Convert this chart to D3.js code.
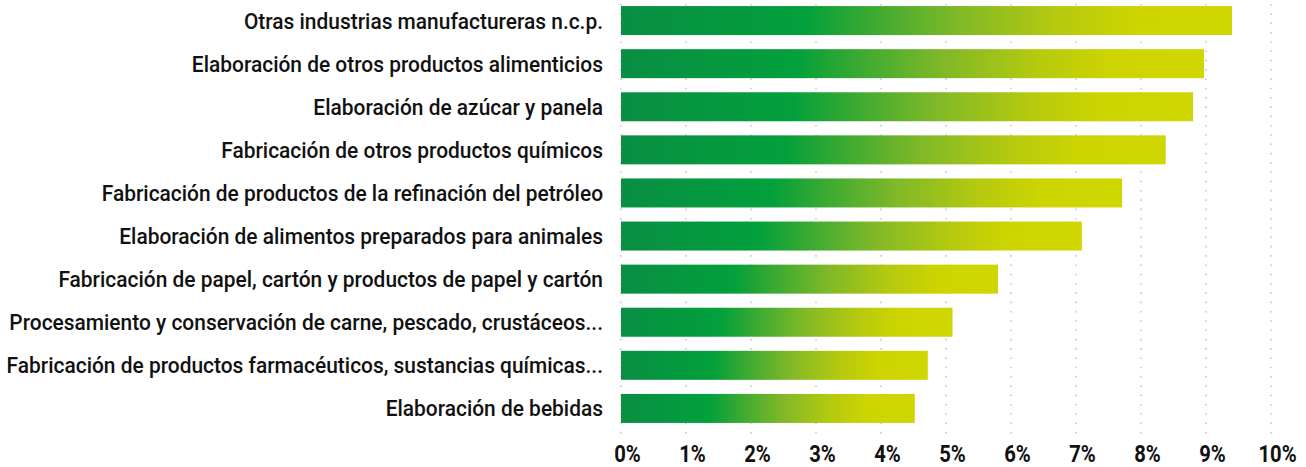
<!DOCTYPE html>
<html>
<head>
<meta charset="utf-8">
<script src="https://cdn.jsdelivr.net/npm/d3@7"></script>
<style>
  body { margin: 0; background: #ffffff; }
  svg { display: block; }
</style>
</head>
<body>
<div id="container"></div>
<script>
let w = 1306;
let h = 467;

// categories, top to bottom
let categories = [
  "Otras industrias manufactureras n.c.p.",
  "Elaboración de otros productos alimenticios",
  "Elaboración de azúcar y panela",
  "Fabricación de otros productos químicos",
  "Fabricación de productos de la refinación del petróleo",
  "Elaboración de alimentos preparados para animales",
  "Fabricación de papel, cartón y productos de papel y cartón",
  "Procesamiento y conservación de carne, pescado, crustáceos...",
  "Fabricación de productos farmacéuticos, sustancias químicas...",
  "Elaboración de bebidas"
];

// share, in percent
let values = [9.40, 8.97, 8.80, 8.38, 7.71, 7.09, 5.80, 5.10, 4.72, 4.52];

// tick labels
let ticks = [0, 1, 2, 3, 4, 5, 6, 7, 8, 9, 10];

let viz = d3.select("#container")
  .append("svg")
    .attr("width", w)
    .attr("height", h)
;

// gradient for the bars, follows each bar's own box
let defs = viz.append("defs");
let grad = defs.append("linearGradient")
  .attr("id", "bargrad")
  .attr("x1", "0%").attr("x2", "100%")
  .attr("y1", "0%").attr("y2", "0%");
let stops = [
  [0, "#098e43"],
  [0.30, "#02a03c"],
  [0.36, "#22a535"],
  [0.55, "#80b828"],
  [0.72, "#b7ca0e"],
  [0.84, "#cdd400"],
  [1, "#cfd600"]
];
grad.selectAll("stop").data(stops).enter()
  .append("stop")
    .attr("offset", function(d){ return d[0]; })
    .attr("stop-color", function(d){ return d[1]; });

let xScale = d3.scaleLinear().domain([0, 10]).range([621, 1271]);
let yScale = d3.scaleBand()
  .domain(categories)
  .range([-1, 430])
  .paddingInner(0.327)
  .paddingOuter(0.164);

// dotted vertical grid
viz.append("g").attr("class", "grid")
  .selectAll("line").data(ticks).enter()
  .append("line")
    .attr("x1", function(d){ return xScale(d); })
    .attr("x2", function(d){ return xScale(d); })
    .attr("y1", 4)
    .attr("y2", 438)
    .attr("stroke", "#c8c8c8")
    .attr("stroke-width", 1.6)
    .attr("stroke-dasharray", "1.6 7.7");

// bars
viz.append("g").attr("class", "bars")
  .selectAll("rect").data(values).enter()
  .append("rect")
    .attr("x", xScale(0))
    .attr("y", function(d, i){ return yScale(categories[i]); })
    .attr("width", function(d){ return xScale(d) - xScale(0); })
    .attr("height", yScale.bandwidth())
    .attr("fill", "url(#bargrad)");

// category labels, condensed look by squeezing horizontally
let sx = 0.93;
let labelRight = 603;
let labels = viz.append("g").attr("class", "labels")
  .attr("transform", "translate(" + labelRight + ",0) scale(" + sx + ",1)");
labels.selectAll("text").data(categories).enter()
  .append("text")
    .attr("x", 0)
    .attr("y", function(d){ return yScale(d) + yScale.bandwidth() / 2 + 8; })
    .attr("text-anchor", "end")
    .attr("font-family", "Roboto, 'Noto Sans', sans-serif")
    .attr("font-weight", 500)
    .attr("font-size", 22.5)
    .attr("fill", "#111111")
    .text(function(d){ return d; });

// x axis labels
let xAxis = d3.axisBottom(xScale)
  .tickValues(ticks)
  .tickSize(0)
  .tickPadding(0)
  .tickFormat(function(d){ return d + "%"; });
let xAxisGroup = viz.append("g").attr("class", "xaxis")
  .attr("transform", "translate(0,443)")
  .call(xAxis);
xAxisGroup.select(".domain").remove();
xAxisGroup.selectAll("text")
  .attr("dy", 0)
  .attr("y", 19)
  .attr("x", 0)
  .attr("transform", "translate(6,0) scale(0.88,1)")
  .attr("font-family", "Roboto, sans-serif")
  .attr("font-weight", 700)
  .attr("font-size", 23)
  .attr("fill", "#111111");
</script>
</body>
</html>
